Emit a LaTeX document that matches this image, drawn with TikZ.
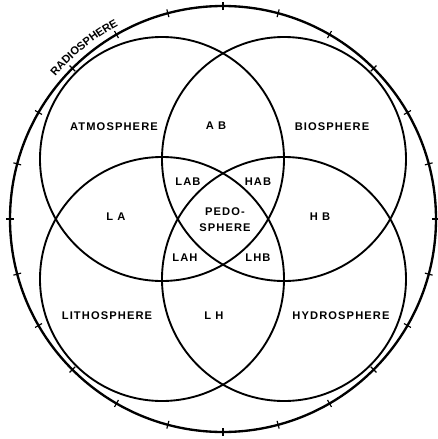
\documentclass[tikz,border=0pt]{standalone}
\usepackage{fontspec}
\newfontfamily\rotfont{Liberation Sans}[LetterSpace=10]
\usetikzlibrary{decorations.text}
\newcommand{\letra}{\rotfont\bfseries\fontsize{9.5}{13.6}\selectfont}
\tikzset{
  esfera/.style={draw=black, line width=1.6pt},
  borde/.style={draw=black, line width=2pt},
  marca/.style={draw=black, line width=1pt},
  rotulo/.style={font=\letra, inner sep=1pt, align=center}
}

\begin{document}
\begin{tikzpicture}[x=0.03cm, y=0.03cm]
  \useasboundingbox (-223,-220) rectangle (214,219);
  \coordinate (o) at (0,0);
  \coordinate (atm) at (-61,60);
  \coordinate (bio) at (61,60);
  \coordinate (lit) at (-61,-60);
  \coordinate (hid) at (61,-60);

  % radiosfera con sus marcas
  \draw[borde] (o) circle[radius=213];
  \foreach \a in {0,15,...,345}
    \draw[marca] (o) ++(\a:209) -- ++(\a:8);
  \path[decorate, decoration={text along path, text align=center,
      text={|\letra|RADIOSPHERE}}]
    (151:220) arc[start angle=151, end angle=107, radius=220];

  % las cuatro esferas
  \draw[esfera] (atm) circle[radius=122];
  \draw[esfera] (bio) circle[radius=122];
  \draw[esfera] (lit) circle[radius=122];
  \draw[esfera] (hid) circle[radius=122];

  \node[rotulo] (natm) at (-109,92) {ATMOSPHERE};
  \node[rotulo] (nab)  at (-7,93)   {A B};
  \node[rotulo] (nbio) at (109,92)  {BIOSPHERE};
  \node[rotulo] (nla)  at (-107,2)  {L A};
  \node[rotulo] (nhb)  at (97,2)    {H B};
  \node[rotulo] (nlab) at (-35,37)  {LAB};
  \node[rotulo] (nhab) at (35,37)   {HAB};
  \node[rotulo] (nped) at (2,-1)    {PEDO-\\SPHERE};
  \node[rotulo] (nlah) at (-38,-39) {LAH};
  \node[rotulo] (nlhb) at (35,-39)  {LHB};
  \node[rotulo] (nlit) at (-116,-97) {LITHOSPHERE};
  \node[rotulo] (nlh)  at (-9,-97)  {L H};
  \node[rotulo] (nhid) at (118,-97) {HYDROSPHERE};
\end{tikzpicture}
\end{document}
